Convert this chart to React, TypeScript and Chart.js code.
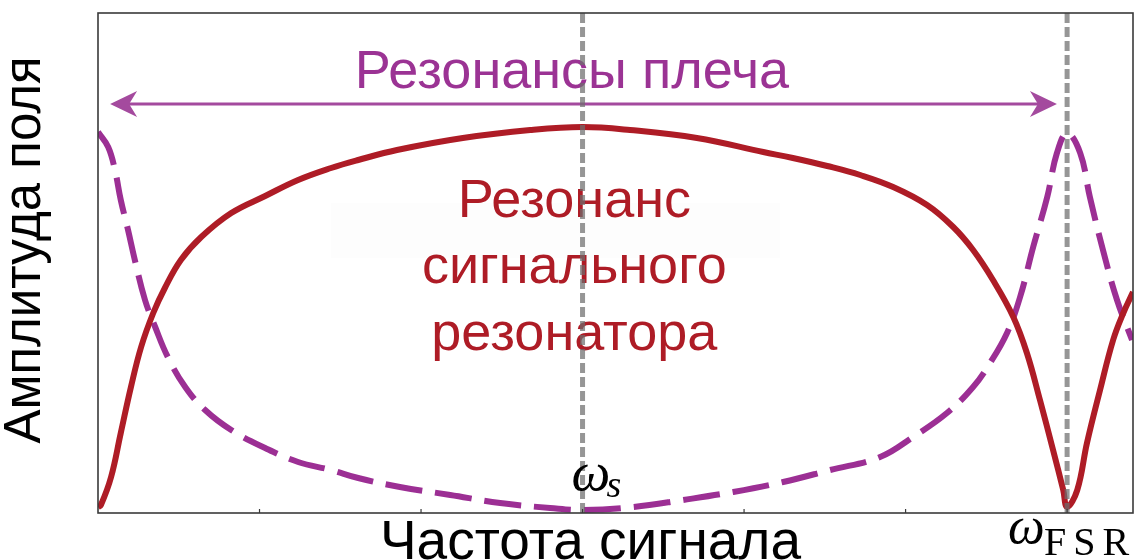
import { useEffect, useRef } from "react"
import { Chart, registerables } from "chart.js"

Chart.register(...registerables)

// частота в единицах FSR, 0 = ω_s, 1 = ω_FSR
const signalFreq = [-1, -0.994, -0.973, -0.953, -0.932, -0.911, -0.886, -0.862, -0.829, -0.787, -0.725, -0.655, -0.587, -0.519, -0.463, -0.383, -0.247, -0.108, 0, 0.098, 0.236, 0.373, 0.434, 0.505, 0.573, 0.641, 0.711, 0.765, 0.806, 0.847, 0.889, 0.917, 0.944, 0.971, 0.992, 1, 1.021, 1.041, 1.068, 1.095, 1.116, 1.136]
const signalAmp = [0.012, 0.016, 0.072, 0.16, 0.252, 0.332, 0.4, 0.45, 0.506, 0.552, 0.6, 0.634, 0.666, 0.69, 0.706, 0.726, 0.75, 0.766, 0.772, 0.766, 0.75, 0.722, 0.71, 0.694, 0.676, 0.652, 0.616, 0.572, 0.526, 0.466, 0.392, 0.32, 0.226, 0.126, 0.046, 0.012, 0.046, 0.14, 0.246, 0.346, 0.4, 0.442]

const armFreq = [-1, -0.979, -0.965, -0.953, -0.938, -0.924, -0.903, -0.882, -0.856, -0.82, -0.779, -0.725, -0.655, -0.587, -0.519, -0.463, -0.377, -0.273, -0.17, -0.067, 0, 0.104, 0.207, 0.311, 0.414, 0.511, 0.614, 0.682, 0.752, 0.806, 0.841, 0.876, 0.903, 0.93, 0.959, 0.979, 1, 1.027, 1.047, 1.074, 1.103, 1.134]
const armAmp = [0.762, 0.732, 0.686, 0.626, 0.566, 0.506, 0.426, 0.372, 0.312, 0.252, 0.206, 0.166, 0.13, 0.102, 0.086, 0.07, 0.052, 0.036, 0.02, 0.01, 0.006, 0.012, 0.026, 0.042, 0.062, 0.086, 0.112, 0.152, 0.2, 0.252, 0.3, 0.36, 0.432, 0.532, 0.632, 0.72, 0.76, 0.72, 0.632, 0.526, 0.426, 0.346]

const markerFreqs = [0, 1]
const tickFreqs = [-2 / 3, -1 / 3, 0, 1 / 3, 2 / 3, 1]

const X_MIN = -1
const X_MAX = 1.136

const RED = "#ae1c26"
const PURPLE = "#9c2f94"
const SANS = '"Liberation Sans", Arial, sans-serif'
const SERIF = '"Liberation Serif", "Times New Roman", serif'

const annotations = {
  id: "annotations",
  beforeDatasetsDraw(chart: Chart) {
    const { ctx } = chart
    const xs = chart.scales.x
    const ys = chart.scales.y
    ctx.save()

    // еле заметная подложка под подписью
    ctx.fillStyle = "rgba(0,0,0,0.008)"
    const bx0 = xs.getPixelForValue(-0.52)
    const bx1 = xs.getPixelForValue(0.408)
    const by0 = ys.getPixelForValue(0.62)
    const by1 = ys.getPixelForValue(0.51)
    ctx.fillRect(bx0, by0, bx1 - bx0, by1 - by0)

    // стрелка «Резонансы плеча»
    const ay = ys.getPixelForValue(0.818)
    const ax0 = xs.getPixelForValue(-0.975)
    const ax1 = xs.getPixelForValue(0.979)
    ctx.strokeStyle = "#a44a9e"
    ctx.fillStyle = "#a44a9e"
    ctx.lineWidth = 3
    ctx.beginPath()
    ctx.moveTo(ax0 + 10, ay)
    ctx.lineTo(ax1 - 10, ay)
    ctx.stroke()
    const head = (tip: number, dir: number) => {
      ctx.beginPath()
      ctx.moveTo(tip, ay)
      ctx.lineTo(tip - dir * 27, ay - 13)
      ctx.lineTo(tip - dir * 19, ay)
      ctx.lineTo(tip - dir * 27, ay + 13)
      ctx.closePath()
      ctx.fill()
    }
    head(ax0, -1)
    head(ax1, 1)

    ctx.textAlign = "center"
    ctx.textBaseline = "alphabetic"
    ctx.font = `54px ${SANS}`
    ctx.fillStyle = "#9b3394"
    ctx.fillText("Резонансы плеча", xs.getPixelForValue(-0.022), ys.getPixelForValue(0.85))

    ctx.fillStyle = RED
    const lines = ["Резонанс", "сигнального", "резонатора"]
    const lineY = [0.592, 0.46, 0.326]
    lines.forEach((t, i) => {
      ctx.fillText(t, xs.getPixelForValue(-0.017), ys.getPixelForValue(lineY[i]))
    })
    ctx.restore()
  },
  afterDraw(chart: Chart) {
    const { ctx, chartArea } = chart
    const xs = chart.scales.x
    const { left, right, top, bottom } = chartArea
    ctx.save()

    // рамка
    ctx.strokeStyle = "#3a3a3a"
    ctx.lineWidth = 1.6
    ctx.strokeRect(left, top, right - left, bottom - top)

    // мелкие засечки внутрь
    ctx.lineWidth = 1.2
    ctx.beginPath()
    tickFreqs.forEach((f) => {
      const px = xs.getPixelForValue(f)
      ctx.moveTo(px, bottom)
      ctx.lineTo(px, bottom - 4)
    })
    ctx.stroke()

    ctx.fillStyle = "#000"
    ctx.textBaseline = "alphabetic"

    // ω_s
    const sx = xs.getPixelForValue(0)
    ctx.textAlign = "left"
    ctx.font = `italic 55px ${SERIF}`
    ctx.fillText("ω", sx - 11, bottom - 23)
    ctx.font = `italic 38px ${SERIF}`
    ctx.fillText("s", sx + 24, bottom - 16)

    // ω_FSR
    const fx = xs.getPixelForValue(1)
    ctx.font = `italic 52px ${SERIF}`
    ctx.fillText("ω", fx - 59, bottom + 30)
    ctx.font = `40px ${SERIF}`
    ;(ctx as any).letterSpacing = "7px"
    ctx.fillText("FSR", fx - 23, bottom + 42)
    ;(ctx as any).letterSpacing = "0px"

    // подписи осей
    ctx.textAlign = "center"
    ctx.font = `55px ${SANS}`
    ctx.fillText("Частота сигнала", (left + right) / 2 - 25, bottom + 46)

    ctx.translate(left - 58, (top + bottom) / 2 - 13)
    ctx.rotate(-Math.PI / 2)
    ctx.font = `51px ${SANS}`
    ctx.fillText("Амплитуда поля", 0, 0)
    ctx.restore()
  },
}

export default function App() {
  const chartRef = useRef<HTMLCanvasElement>(null)
  const chartInstance = useRef<Chart | null>(null)

  useEffect(() => {
    if (!chartRef.current) return
    if (chartInstance.current) {
      chartInstance.current.destroy()
    }
    const ctx = chartRef.current.getContext("2d")
    if (!ctx) return

    const markerSets = markerFreqs.map((f) => ({
      label: "marker",
      data: [
        { x: f, y: 0 },
        { x: f, y: 1 },
      ],
      borderColor: "rgba(110,110,110,0.72)",
      borderWidth: 5,
      borderDash: [10, 4],
      pointRadius: 0,
      tension: 0,
      order: 0,
    }))

    chartInstance.current = new Chart(ctx, {
      type: "line",
      data: {
        datasets: [
          {
            label: "Резонанс сигнального резонатора",
            data: signalFreq.map((f, i) => ({ x: f, y: signalAmp[i] })),
            borderColor: RED,
            borderWidth: 6,
            pointRadius: 0,
            tension: 0.4,
            order: 1,
          },
          {
            label: "Резонансы плеча",
            data: armFreq.map((f, i) => ({ x: f, y: armAmp[i] })),
            borderColor: PURPLE,
            borderWidth: 6,
            borderDash: [37, 13],
            pointRadius: 0,
            tension: 0.4,
            order: 2,
          },
          ...markerSets,
        ],
      },
      options: {
        responsive: true,
        maintainAspectRatio: false,
        animation: false,
        layout: {
          padding: { left: 98, right: 11, top: 13, bottom: 47 },
        },
        scales: {
          x: { type: "linear", display: false, min: X_MIN, max: X_MAX },
          y: { type: "linear", display: false, min: 0, max: 1 },
        },
        plugins: {
          legend: { display: false },
          tooltip: { enabled: false },
        },
      },
      plugins: [annotations],
    })

    return () => {
      if (chartInstance.current) {
        chartInstance.current.destroy()
        chartInstance.current = null
      }
    }
  }, [])

  return (
    <div style={{ position: "absolute", left: 0, top: 0, width: 1144, height: 560, background: "#fff" }}>
      <canvas ref={chartRef} />
    </div>
  )
}
